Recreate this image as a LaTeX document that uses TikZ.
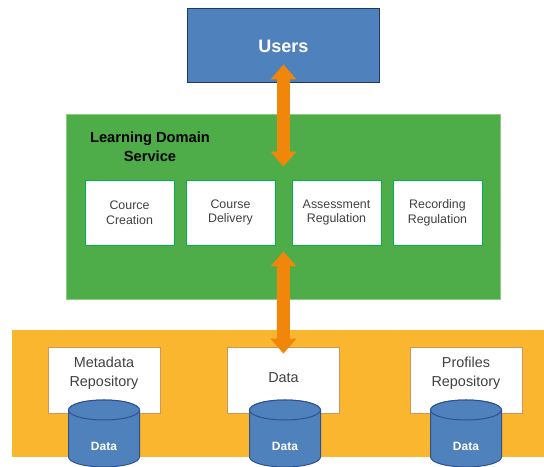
\documentclass[tikz,border=0pt]{standalone}
\usepackage{fontspec}
\setmainfont{Liberation Sans}
\usetikzlibrary{arrows.meta,positioning}
\definecolor{usersblue}{RGB}{79,129,189}
\definecolor{usersedge}{RGB}{31,56,100}
\definecolor{servicegreen}{RGB}{78,173,72}
\definecolor{serviceedge}{RGB}{140,205,130}
\definecolor{moduleedge}{RGB}{0,176,80}
\definecolor{storeorange}{RGB}{251,182,47}
\definecolor{repoedge}{RGB}{205,150,90}
\definecolor{diskedge}{RGB}{47,82,143}
\definecolor{linkorange}{RGB}{240,134,10}
\definecolor{textgray}{RGB}{64,64,64}
\tikzstyle{users} = [rectangle, draw=usersedge, fill=usersblue, line width=0.75pt, minimum width=144pt, minimum height=55.5pt, text=white, font=\fontsize{13.5}{16}\selectfont\bfseries]
\tikzstyle{service} = [rectangle, draw=serviceedge, fill=servicegreen, line width=0.6pt, minimum width=325.5pt, minimum height=138.75pt]
\tikzstyle{title} = [align=center, inner sep=0pt, font=\fontsize{11}{14}\selectfont\bfseries]
\tikzstyle{module} = [rectangle, draw=moduleedge, fill=white, line width=0.6pt, minimum width=66.75pt, minimum height=48.75pt, align=center, text=textgray, font=\fontsize{9.3}{11}\selectfont]
\tikzstyle{store} = [rectangle, fill=storeorange, minimum width=399pt, minimum height=95.25pt]
\tikzstyle{repo} = [rectangle, draw=repoedge, fill=white, line width=0.5pt, minimum width=84pt, minimum height=49.5pt]
\tikzstyle{repotext} = [align=center, text=textgray, font=\fontsize{10.8}{14.5}\selectfont]
\tikzstyle{disk} = [draw=diskedge, fill=usersblue, line width=0.75pt]
\tikzstyle{disklabel} = [text=white, font=\fontsize{9}{10}\selectfont\bfseries]
\tikzstyle{link} = [draw=linkorange, line width=9.75pt, >={Triangle[width=18.75pt,length=11.25pt]}, <->]

\begin{document}
\begin{tikzpicture}[x=0.75pt, y=0.75pt]
		\useasboundingbox (0,0) rectangle (544,467);
		% Top
		\node[users] (Users) at (283.5,421) {Users};

		% Service layer
		\node[service] (LearningDomain) at (283.5,260.5) {};
		\node[title] (ServiceTitle) at (150,320.5) {Learning Domain\\Service};
		\node[module] (CourceCreation) at (129.5,254.5) {Cource\\Creation};
		\node[module, right of = CourceCreation, node distance = 75.75pt] (CourseDelivery) {Course\\Delivery};
		\node[module, right of = CourseDelivery, node distance = 79.5pt] (AssessmentRegulation) {Assessment\\Regulation};
		\node[module, right of = AssessmentRegulation, node distance = 75.75pt] (RecordingRegulation) {Recording\\Regulation};

		% Storage layer
		\node[store] (Storage) at (278,73.5) {};
		\node[repo, label={[repotext, yshift=5.25pt]center:{Metadata\\Repository}}] (MetadataRepo) at (104,87) {};
		\node[repo, label={[repotext, yshift=1.5pt]center:Data}, right of = MetadataRepo, node distance = 134.6pt] (DataBox) {};
		\node[repo, label={[repotext, yshift=5.25pt]center:{Profiles\\Repository}}, right of = DataBox, node distance = 136.9pt] (ProfilesRepo) {};

		% Disks
		\foreach \cx/\nm in {104/MetadataDisk, 285/DataDisk, 466/ProfilesDisk} {
			\filldraw[disk] (\cx-35.5,57) -- (\cx-35.5,10) arc[start angle=180, end angle=360, x radius=35.5, y radius=10] -- (\cx+35.5,57) arc[start angle=0, end angle=180, x radius=35.5, y radius=10] -- cycle;
			\draw[disk] (\cx,57) ellipse[x radius=35.5, y radius=10];
			\node[disklabel] (\nm) at (\cx,20.5) {Data};
		}

		% Paths
		\path [link] ([yshift=14.25pt]Users.south) -- ([yshift=-39.75pt]LearningDomain.north);
		\path [link] ([yshift=36pt]LearningDomain.south) -- ([yshift=-5.25pt]DataBox.north);

	\end{tikzpicture}
\end{document}
